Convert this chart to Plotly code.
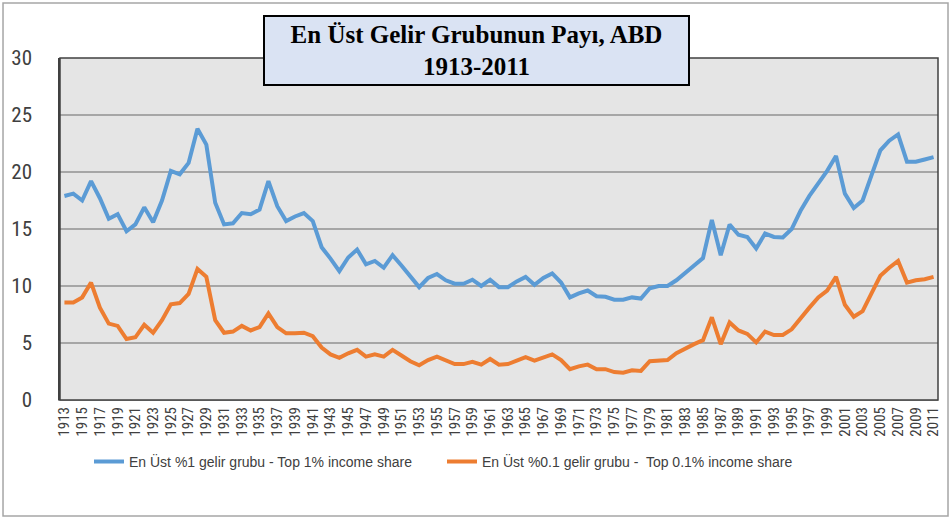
import plotly.graph_objects as go

years = list(range(1913, 2012))

top1 = [17.9, 18.1, 17.5, 19.2, 17.7, 15.9, 16.3, 14.8, 15.4, 16.9,
        15.6, 17.5, 20.1, 19.8, 20.8, 23.8, 22.4, 17.3, 15.4, 15.5,
        16.4, 16.3, 16.7, 19.2, 17.0, 15.7, 16.1, 16.4, 15.7, 13.4,
        12.4, 11.3, 12.5, 13.2, 11.9, 12.2, 11.6, 12.7, 11.8, 10.8,
        9.9, 10.7, 11.05, 10.5, 10.2, 10.2, 10.55, 10.0, 10.55, 9.9,
        9.9, 10.4, 10.8, 10.1, 10.7, 11.1, 10.3, 9.0, 9.35, 9.6,
        9.1, 9.05, 8.8, 8.8, 9.0, 8.9, 9.8, 10.0, 10.0, 10.5,
        11.2, 11.8, 12.45, 15.8, 12.7, 15.4, 14.5, 14.3, 13.3, 14.6,
        14.3, 14.25, 15.0, 16.6, 17.9, 19.0, 20.1, 21.4, 18.1, 16.85,
        17.5, 19.7, 21.9, 22.75, 23.3, 20.9, 20.9, 21.1, 21.3]

top01 = [8.56, 8.56, 9.0, 10.3, 8.1, 6.7, 6.5, 5.35, 5.5, 6.6,
         5.9, 7.0, 8.4, 8.5, 9.3, 11.5, 10.8, 7.0, 5.9, 6.0,
         6.5, 6.1, 6.4, 7.6, 6.4, 5.85, 5.85, 5.9, 5.6, 4.6,
         4.0, 3.7, 4.1, 4.4, 3.8, 4.0, 3.8, 4.4, 3.9, 3.4,
         3.05, 3.5, 3.8, 3.5, 3.15, 3.15, 3.35, 3.1, 3.6, 3.1,
         3.15, 3.45, 3.75, 3.45, 3.75, 4.0, 3.5, 2.7, 2.95, 3.1,
         2.7, 2.7, 2.45, 2.4, 2.6, 2.55, 3.4, 3.45, 3.5, 4.1,
         4.55, 4.9, 5.25, 7.25, 4.9, 6.8, 6.1, 5.8, 5.05, 6.0,
         5.7, 5.7, 6.2, 7.2, 8.1, 9.0, 9.6, 10.8, 8.35, 7.3,
         7.8, 9.35, 10.9, 11.6, 12.2, 10.3, 10.5, 10.6, 10.8]

name1 = "En Üst %1 gelir grubu - Top 1% income share"
name2 = "En Üst %0.1 gelir grubu -  Top 0.1% income share"
title_text = "<b>En Üst Gelir Grubunun Payı, ABD<br>1913-2011</b>"
year_ticks = years[::2]

narrow = "Liberation Sans Narrow, Roboto Condensed, Arial Narrow, sans-serif"

fig = go.Figure()
fig.add_trace(go.Scatter(x=years, y=top1, mode="lines", name=name1,
                         line=dict(color="#5B9BD5", width=4)))
fig.add_trace(go.Scatter(x=years, y=top01, mode="lines", name=name2,
                         line=dict(color="#ED7D31", width=4)))

fig.update_layout(
    width=951, height=519,
    margin=dict(l=60, r=13, t=58, b=119, autoexpand=False),
    paper_bgcolor="white",
    plot_bgcolor="#E5E5E5",
    showlegend=True,
    legend=dict(orientation="h", x=0.033, y=-0.181, xanchor="left", yanchor="middle",
                font=dict(family="Liberation Sans, Arial, sans-serif", size=14, color="#404040"),
                entrywidth=308, entrywidthmode="pixels",
                bgcolor="rgba(0,0,0,0)"),
    xaxis=dict(range=[1912.5, 2011.5], tickmode="array", tickvals=year_ticks,
               ticktext=[str(y) for y in year_ticks], tickangle=-90,
               tickfont=dict(family=narrow, size=15, color="#404040"),
               showgrid=False, zeroline=False, showline=True, linecolor="#A0A0A0",
               linewidth=1, mirror=False, ticks="", automargin=False),
    yaxis=dict(range=[0, 30], dtick=5, tickfont=dict(family=narrow, size=21, color="#404040"),
               showgrid=True, gridcolor="#A6A6A6", gridwidth=1.5, zeroline=False,
               showline=True, linecolor="#404040", linewidth=1.5, ticks="",
               ticklabelstandoff=22, automargin=False),
)

# plot area frame (top/right)
fig.add_shape(type="rect", xref="paper", yref="paper", x0=0, x1=1, y0=0, y1=1,
              line=dict(color="#404040", width=1.5), layer="above")
# outer chart border
fig.add_shape(type="rect", xref="paper", yref="paper", x0=-0.0649, x1=1.0114,
              y0=-0.339, y1=1.1608, line=dict(color="#A6A6A6", width=1.5))

fig.add_annotation(xref="paper", yref="paper", x=0.4744, y=1.022,
                   xanchor="center", yanchor="middle", text=title_text, showarrow=False,
                   font=dict(family="Liberation Serif, DejaVu Serif, serif", size=25, color="black"),
                   bgcolor="#DAE3F3", bordercolor="black", borderwidth=2,
                   width=419, height=63, borderpad=2)

fig.write_html("out.html", config={"displayModeBar": False},
               post_script="document.body.style.margin='0';")
